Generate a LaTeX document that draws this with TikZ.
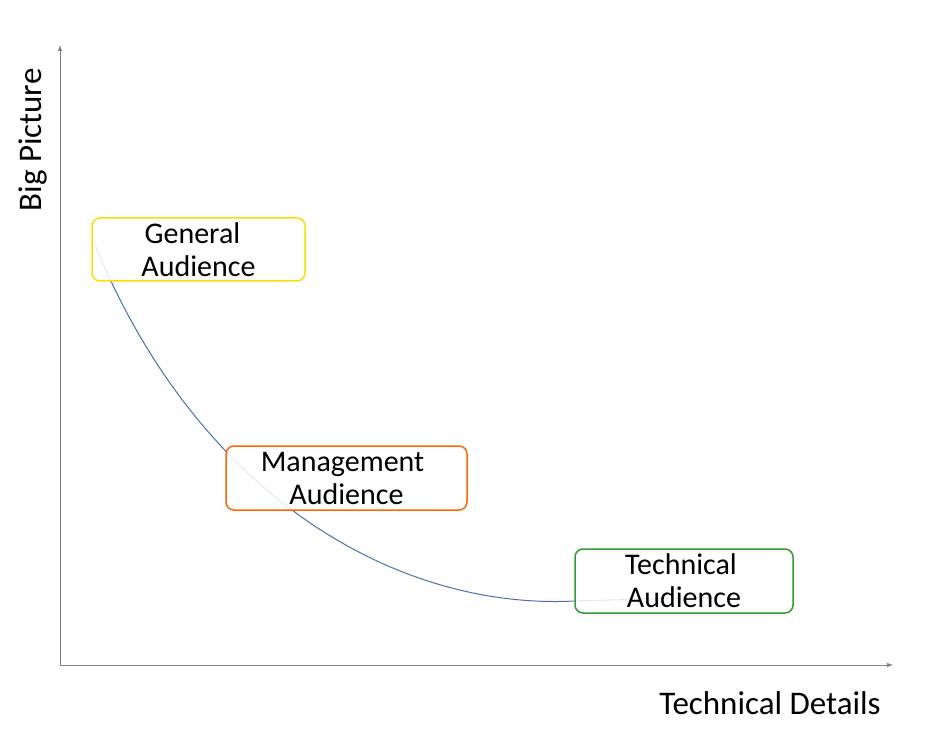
\documentclass[tikz,border=0pt]{standalone}
\usepackage{fontspec}
\setmainfont{Carlito}
\usetikzlibrary{positioning}
\definecolor{curveblue}{RGB}{68,114,176}
\begin{document}
\begin{tikzpicture}[x=1pt,y=-1pt,
		axis/.style={draw=gray,line width=1pt,-latex},
		aud/.style={draw,line width=1.5pt,rounded corners=8pt,fill=white,fill opacity=0.85,text opacity=1,align=center,font=\fontsize{30}{33}\selectfont,inner sep=0pt},
		lbl/.style={font=\fontsize{33}{36}\selectfont,inner sep=0pt}]
		\useasboundingbox (0,0) rectangle (942,743);
		
		\coordinate (o) at (60,665);
		\coordinate (ytop) at (60,45);
		\coordinate (xend) at (893,665);
		\draw[axis] (o) -- (ytop);
		\draw[axis] (o) -- (xend);
		\node[lbl,rotate=90] (ylab) at (33,140) {Big Picture};
		\node[lbl] (xlab) at (770,703) {Technical Details};
		
		\coordinate (c1) at (95,245);
		\coordinate (c2) at (575,601);
		\draw[curveblue,line width=1pt] (c1) .. controls (200,500) and (400,610) .. (c2) -- (720,597);
		
		\node[aud,draw=yellow!80!orange,minimum width=213pt,minimum height=63pt] (gen) at (198.5,249.5) {\hspace*{-12pt}General\\Audience};
		\node[aud,draw=orange!80!red,minimum width=241pt,minimum height=64pt] (man) at (346.5,478) {\hspace*{-8pt}Management\\Audience};
		\node[aud,draw=green!50!black!80,minimum width=218pt,minimum height=64pt] (tec) at (684,581) {\hspace*{-6pt}Technical\\Audience};
	\end{tikzpicture}
\end{document}
